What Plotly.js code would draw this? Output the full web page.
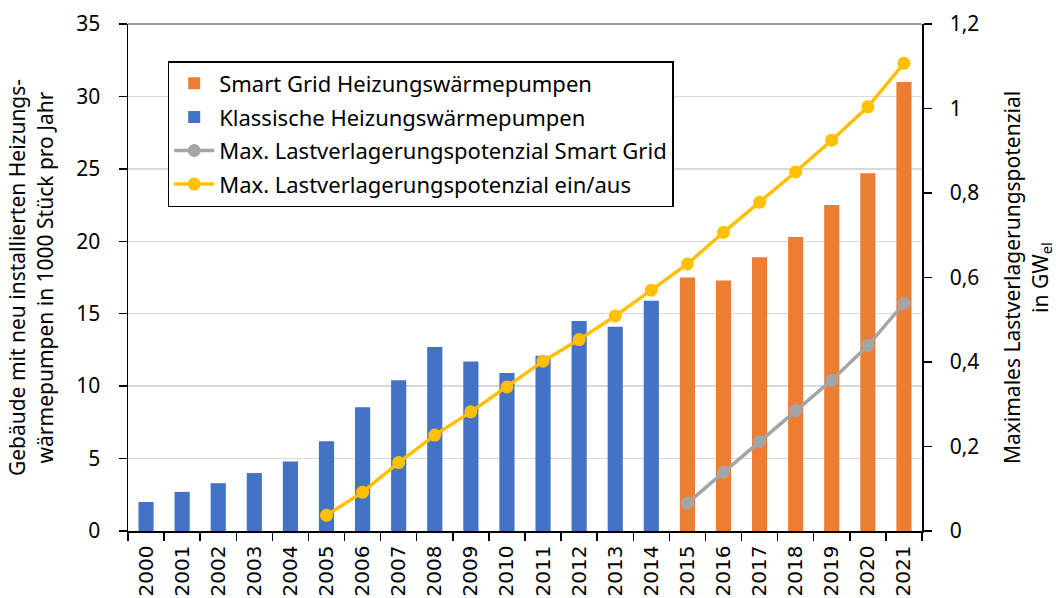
<!DOCTYPE html>
<html>
<head>
<meta charset="utf-8">
<script src="https://cdn.plot.ly/plotly-3.0.1.min.js"></script>
<style>html,body{margin:0;padding:0;background:#fff;}#chart{width:1056px;height:598px;}</style>
</head>
<body>
<div id="chart"></div>
<script>
const years = ["2000","2001","2002","2003","2004","2005","2006","2007","2008","2009","2010","2011","2012","2013","2014","2015","2016","2017","2018","2019","2020","2021"];
const klassisch = [2.0,2.7,3.3,4.0,4.8,6.2,8.55,10.4,12.7,11.7,10.9,12.1,14.5,14.1,15.9,null,null,null,null,null,null,null];
const smartGrid = [null,null,null,null,null,null,null,null,null,null,null,null,null,null,null,17.5,17.3,18.9,20.3,22.5,24.7,31.0];
const potSmartGrid = [null,null,null,null,null,null,null,null,null,null,null,null,null,null,null,0.066,0.139,0.212,0.285,0.357,0.439,0.539];
const potEinAus = [null,null,null,null,null,0.037,0.092,0.162,0.227,0.282,0.341,0.402,0.453,0.509,0.570,0.632,0.707,0.778,0.850,0.925,1.004,1.107];
const names = ["Smart Grid Heizungswärmepumpen","Klassische Heizungswärmepumpen","Max. Lastverlagerungspotenzial Smart Grid","Max. Lastverlagerungspotenzial ein/aus"];

const font = "Noto Sans, Open Sans, sans-serif";
const traces = [
  {type:"bar", x:years, y:smartGrid, name:names[0], marker:{color:"#ED7D31"}, width:0.42, legendgroup:"a"},
  {type:"bar", x:years, y:klassisch, name:names[1], marker:{color:"#4472C4"}, width:0.42, legendgroup:"b"},
  {type:"scatter", mode:"lines+markers", x:years, y:potSmartGrid, yaxis:"y2", name:names[2],
   line:{color:"#A5A5A5", width:3.5}, marker:{color:"#A5A5A5", size:13}, legendgroup:"c"},
  {type:"scatter", mode:"lines+markers", x:years, y:potEinAus, yaxis:"y2", name:names[3],
   line:{color:"#FFC000", width:3.5}, marker:{color:"#FFC000", size:13}, legendgroup:"d"}
];

const layout = {
  width:1056, height:598,
  margin:{l:128, r:134, t:24, b:67},
  paper_bgcolor:"#fff", plot_bgcolor:"#fff",
  separators:",.",
  barmode:"overlay",
  showlegend:true,
  font:{family:font, size:21, color:"#000"},
  legend:{x:0.05, y:0.927, xanchor:"left", yanchor:"top", bordercolor:"#000", borderwidth:1.5,
    bgcolor:"#fff", font:{family:font, size:22, color:"#000"}, traceorder:"grouped", tracegroupgap:2, itemwidth:40},
  xaxis:{type:"category", range:[-0.5,21.5], tickangle:-90, showline:true, linecolor:"#000", linewidth:1.5,
    ticks:"outside", tickson:"boundaries", ticklen:8, tickcolor:"#000", tickwidth:1.5, ticklabelstandoff:5,
    tickfont:{family:"DejaVu Sans, sans-serif", size:20, color:"#000"}, showgrid:false, fixedrange:true},
  yaxis:{range:[0,35], dtick:5, showline:true, linecolor:"#000", linewidth:1.5, ticks:"outside",
    ticklen:8, tickcolor:"#000", tickwidth:1.5, ticklabelstandoff:14, gridcolor:"#D9D9D9", gridwidth:1.5, zeroline:false,
    tickfont:{family:font, size:21, color:"#000"},
    title:{text:"Gebäude mit neu installierten Heizungs-<br>wärmepumpen in 1000 Stück pro Jahr", standoff:17,
      font:{family:font, size:21, color:"#000"}}},
  yaxis2:{range:[0,1.2], dtick:0.2, overlaying:"y", side:"right", showline:true, linecolor:"#000", linewidth:1.5,
    ticks:"outside", ticklen:8, tickcolor:"#000", tickwidth:1.5, ticklabelstandoff:14, showgrid:false, zeroline:false,
    tickfont:{family:font, size:21, color:"#000"},
    title:{text:"Maximales Lastverlagerungspotenzial<br>in GW<sub>el</sub>", standoff:31,
      font:{family:font, size:21, color:"#000"}}},
  shapes:[{type:"line", xref:"paper", yref:"paper", x0:0, x1:1, y0:1, y1:1, line:{color:"#7F7F7F", width:1.5}}]
};

Plotly.newPlot("chart", traces, layout, {displayModeBar:false, staticPlot:true});
</script>
</body>
</html>
